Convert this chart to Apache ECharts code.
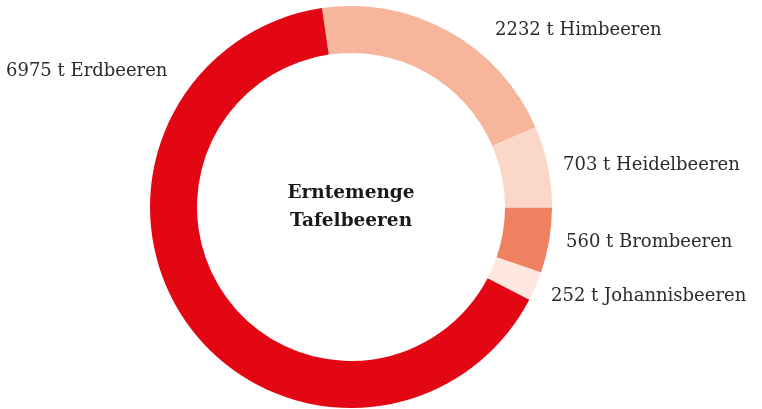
<!DOCTYPE html>
<html><head><meta charset="utf-8">
<script src="https://cdn.jsdelivr.net/npm/echarts@6/dist/echarts.min.js"></script>
<style>html,body{margin:0;padding:0;background:#fff}#c{width:762px;height:409px}</style>
</head><body><div id="c"></div>
<script>
const categories = ['Himbeeren', 'Heidelbeeren', 'Brombeeren', 'Johannisbeeren', 'Erdbeeren'];
const values = [2232, 703, 560, 252, 6975];
const unit = 't';
const centerTitle = ['Erntemenge', 'Tafelbeeren'];

const colors = ['#f7b59c', '#fbd7c7', '#f08160', '#fde7de', '#e30613'];
const labelPos = [[495, 30], [563, 165], [566, 242], [551, 296], [6, 71]];
const FONT = "'Roboto Slab','DejaVu Serif',serif";

const chart = echarts.init(document.getElementById('c'));
chart.setOption({
  animation: false,
  graphic: [{
    type: 'text',
    x: 351, y: 207,
    style: {
      text: centerTitle.join('\n'), align: 'center', verticalAlign: 'middle',
      font: "bold 18.5px " + FONT, lineHeight: 28, fill: '#1a1a1a'
    }
  }],
  series: [{
    type: 'pie',
    center: [351, 207],
    radius: [154, 201],
    startAngle: 98.3,
    clockwise: true,
    silent: true,
    itemStyle: { borderWidth: 0 },
    label: {
      show: true,
      formatter: p => p.value + ' ' + unit + ' ' + p.name,
      fontFamily: FONT, fontSize: 18, color: '#2b2b2b', fontWeight: 300,
      overflow: 'none', width: 300
    },
    labelLine: { show: false },
    labelLayout: p => ({ x: labelPos[p.dataIndex][0], y: labelPos[p.dataIndex][1], align: 'left', verticalAlign: 'middle' }),
    data: categories.map((c, i) => ({ name: c, value: values[i], itemStyle: { color: colors[i] } }))
  }]
});
</script></body></html>
